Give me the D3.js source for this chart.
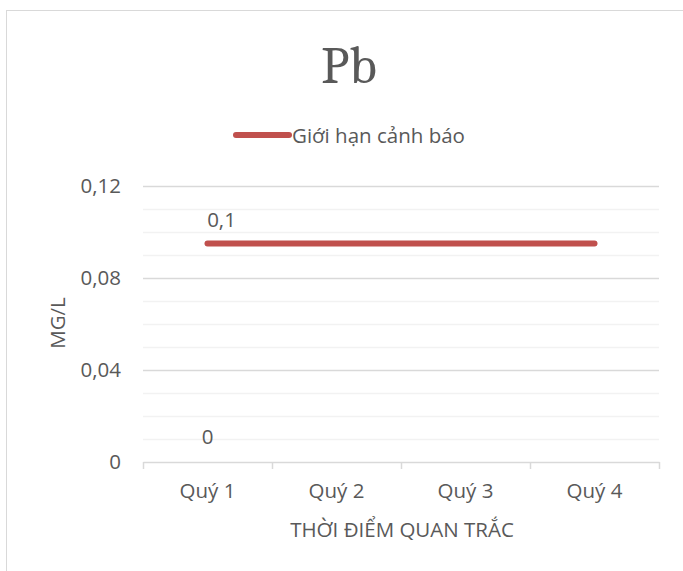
<!DOCTYPE html>
<html>
<head>
<meta charset="utf-8">
<script src="https://cdn.jsdelivr.net/npm/d3@7"></script>
<style>
  body { margin: 0; background: #fff; }
  svg { display: block; }
  text { font-family: "Open Sans", Lato, sans-serif; fill: #595959; }
</style>
</head>
<body>
<svg id="chart" width="683" height="571"></svg>
<script>
// Pb chart - quarterly monitoring vs warning limit
const categories = ['Quý 1', 'Quý 2', 'Quý 3', 'Quý 4'];
const limitValues = [0.095, 0.095, 0.095, 0.095];   // Giới hạn cảnh báo
const pbValues = [0, null, null, null];              // Pb measured (label only)
const yTicks = [0, 0.04, 0.08, 0.12];
const yMinorStep = 0.01;

(function() {
    const svg = d3.select('#chart');
    const width = 683;
    const height = 571;
    const margin = { top: 186, right: 24, bottom: 109, left: 143 };
    const plotWidth = width - margin.left - margin.right;
    const plotHeight = height - margin.top - margin.bottom;
    const red = '#c0504d';
    const fontSize = '20.5px';
    const fmt = v => d3.format('.1~f')(v).replace('.', ',');

    // chart border
    svg.append('rect')
        .attr('x', 6.5)
        .attr('y', 10.5)
        .attr('width', 700)
        .attr('height', 600)
        .attr('fill', 'none')
        .attr('stroke', '#d9d9d9')
        .attr('stroke-width', 1);

    // title
    svg.append('text')
        .attr('x', 349)
        .attr('y', 83)
        .attr('text-anchor', 'middle')
        .style('font-family', 'Cambria, "Liberation Serif", "DejaVu Serif", serif')
        .attr('font-size', '53px')
        .text('Pb');

    // legend
    const legend = svg.append('g').attr('transform', 'translate(236, 135)');
    legend.append('line')
        .attr('x1', 0).attr('x2', 53)
        .attr('y1', 0).attr('y2', 0)
        .attr('stroke', red)
        .attr('stroke-width', 6)
        .attr('stroke-linecap', 'round');
    legend.append('text')
        .attr('x', 56)
        .attr('y', 0)
        .attr('dominant-baseline', 'central')
        .attr('font-size', fontSize)
        .text('Giới hạn cảnh báo');

    const g = svg.append('g')
        .attr('transform', `translate(${margin.left}, ${margin.top})`);

    const xScale = d3.scaleBand()
        .domain(categories)
        .range([0, plotWidth]);

    const yScale = d3.scaleLinear()
        .domain([0, 0.12])
        .range([plotHeight, 0]);

    // minor gridlines
    const minor = d3.range(1, 12).map(i => i * yMinorStep).filter(v => !yTicks.some(t => Math.abs(t - v) < 1e-9));
    g.selectAll('.minor-grid')
        .data(minor)
        .join('line')
        .attr('class', 'minor-grid')
        .attr('x1', 0).attr('x2', plotWidth)
        .attr('y1', d => Math.round(yScale(d)) + 0.5)
        .attr('y2', d => Math.round(yScale(d)) + 0.5)
        .attr('stroke', '#f2f2f2')
        .attr('stroke-width', 1.5);

    // major gridlines
    g.selectAll('.major-grid')
        .data(yTicks.filter(d => d > 0))
        .join('line')
        .attr('class', 'major-grid')
        .attr('x1', 0).attr('x2', plotWidth)
        .attr('y1', d => Math.round(yScale(d)) + 0.5)
        .attr('y2', d => Math.round(yScale(d)) + 0.5)
        .attr('stroke', '#d9d9d9')
        .attr('stroke-width', 1.5);

    // y axis labels
    const yAxis = g.append('g')
        .call(d3.axisLeft(yScale).tickValues(yTicks).tickSize(0).tickPadding(22).tickFormat(d => d === 0 ? '0' : d3.format('.2f')(d).replace('.', ',')));
    yAxis.select('.domain').remove();
    yAxis.selectAll('text')
        .attr('font-size', fontSize)
        .attr('fill', '#595959')
        .style('font-family', '"Open Sans", Lato, sans-serif');

    // x axis
    const xAxis = g.append('g')
        .attr('transform', `translate(0, ${plotHeight})`)
        .call(d3.axisBottom(xScale).tickSize(0).tickPadding(21));
    xAxis.select('.domain').attr('stroke', '#d9d9d9').attr('stroke-width', 1.5);
    xAxis.selectAll('text')
        .attr('font-size', fontSize)
        .attr('fill', '#595959')
        .style('font-family', '"Open Sans", Lato, sans-serif');
    // tick marks at category boundaries
    const bounds = categories.map(c => xScale(c)).concat([plotWidth]);
    xAxis.selectAll('.bound')
        .data(bounds)
        .join('line')
        .attr('class', 'bound')
        .attr('x1', d => Math.round(d) + 0.5).attr('x2', d => Math.round(d) + 0.5)
        .attr('y1', 0).attr('y2', 7)
        .attr('stroke', '#d9d9d9')
        .attr('stroke-width', 1.5);

    // axis titles
    g.append('text')
        .attr('transform', 'rotate(-90)')
        .attr('x', -137)
        .attr('y', -78)
        .attr('text-anchor', 'middle')
        .attr('font-size', fontSize)
        .text('MG/L');

    g.append('text')
        .attr('x', 259)
        .attr('y', 351)
        .attr('text-anchor', 'middle')
        .attr('font-size', fontSize)
        .text('THỜI ĐIỂM QUAN TRẮC');

    const cx = c => xScale(c) + xScale.bandwidth() / 2;

    // warning limit line
    const line = d3.line()
        .defined(d => d.v != null)
        .x(d => cx(d.c))
        .y(d => yScale(d.v));
    const limitData = categories.map((c, i) => ({ c, v: limitValues[i] }));
    g.append('path')
        .datum(limitData)
        .attr('fill', 'none')
        .attr('stroke', red)
        .attr('stroke-width', 6)
        .attr('stroke-linecap', 'round')
        .attr('d', line);

    // data labels (first point of each series)
    g.append('text')
        .attr('x', cx(categories[0]) + 14)
        .attr('y', yScale(limitValues[0]) - 17)
        .attr('text-anchor', 'middle')
        .attr('font-size', fontSize)
        .text(fmt(limitValues[0]));

    const pbData = categories.map((c, i) => ({ c, v: pbValues[i] })).filter(d => d.v != null);
    g.selectAll('.pb-label')
        .data(pbData)
        .join('text')
        .attr('class', 'pb-label')
        .attr('x', d => cx(d.c))
        .attr('y', d => yScale(d.v) - 18)
        .attr('text-anchor', 'middle')
        .attr('font-size', fontSize)
        .text(d => fmt(d.v));
})();
</script>
</body>
</html>
